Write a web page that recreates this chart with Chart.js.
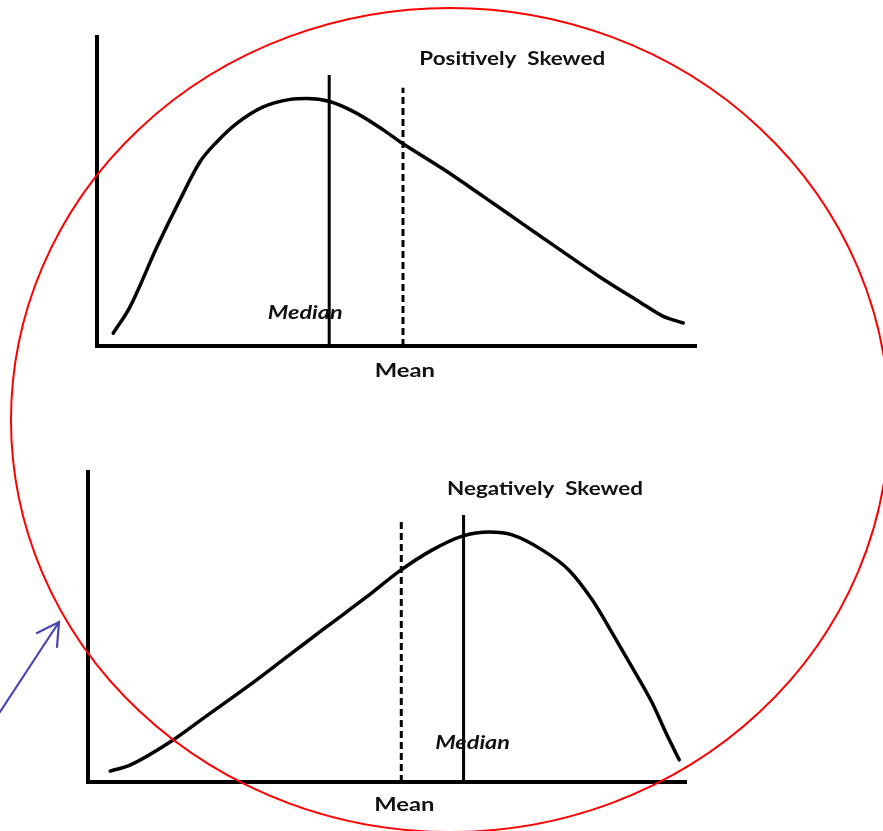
<!DOCTYPE html>
<html><head><meta charset="utf-8">
<script src="https://cdn.jsdelivr.net/npm/chart.js@4/dist/chart.umd.min.js"></script>
<style>
html,body{margin:0;padding:0;background:#fff;}
#wrap{position:relative;width:883px;height:831px;overflow:hidden;background:#fff;}
.c{position:absolute;left:0;}
</style></head><body>
<div id="wrap">
<div class="c" style="top:0;width:883px;height:415px"><canvas id="top"></canvas></div>
<div class="c" style="top:415px;width:883px;height:416px"><canvas id="bot"></canvas></div>
<div class="c" style="top:0;width:883px;height:831px;pointer-events:none"><canvas id="ov"></canvas></div>
</div>
<script>
// ---- Data (arbitrary units, 0..100 on both axes of each panel) ----
const posCurveX = [2.7,5.5,10.0,13.8,17.2,20.0,23.3,27.7,32.2,35.0,38.8,43.3,47.7,50.5,57.7,64.3,71.0,77.2,83.8,90.5,94.3,97.7];
const posCurveY = [4.1,12.6,31.9,46.9,59.3,65.7,71.6,76.9,79.3,79.6,78.6,74.8,69.5,65.7,56.9,48.2,39.2,30.9,22.2,14.1,9.6,7.4];
const posMedian = [38.7, 87.1];   // [x, line height]
const posMean   = [51.0, 83.0];

const negCurveX = [3.7,7.0,13.7,19.8,26.5,33.2,39.8,46.5,52.0,57.5,62.5,67.0,70.8,75.8,80.3,84.2,87.5,90.8,94.2,96.5,98.7];
const negCurveY = [3.5,5.4,12.8,21.2,30.4,40.1,49.7,59.3,67.6,74.4,78.8,80.1,79.2,74.4,67.9,58.3,47.8,36.9,25.3,15.7,7.1];
const negMedian = [62.7, 85.6];
const negMean   = [52.3, 84.3];

const posLabels = {title:"Positively  Skewed", median:"Median", mean:"Mean"};
const negLabels = {title:"Negatively  Skewed", median:"Median", mean:"Mean"};

// ---- Helpers ----
function pts(xs, ys){ return xs.map((x,i)=>({x:x, y:ys[i]})); }

function wideText(ctx, text, x, y, font, sx){
  ctx.save();
  ctx.font = font;
  ctx.translate(x, y);
  ctx.scale(sx, 1);
  ctx.fillText(text, 0, 0);
  ctx.restore();
}

const panelPlugin = {
  id:'panel',
  afterDatasetsDraw(chart){
    const o = chart.options.plugins.panel;
    const ctx = chart.ctx, xs = chart.scales.x, ys = chart.scales.y;
    ctx.save();
    ctx.strokeStyle = '#000';
    ctx.lineWidth = 4;
    ctx.lineCap = 'butt';
    const x0 = xs.getPixelForValue(0), x1 = xs.getPixelForValue(100);
    const y0 = ys.getPixelForValue(0), y1 = ys.getPixelForValue(100);
    ctx.beginPath();
    ctx.moveTo(x0, y1); ctx.lineTo(x0, y0 + 2);
    ctx.moveTo(x0 - 2, y0); ctx.lineTo(x1, y0);
    ctx.stroke();
    ctx.fillStyle = '#111';
    ctx.textAlign = 'center';
    ctx.textBaseline = 'middle';
    wideText(ctx, o.labels.title, xs.getPixelForValue(o.titlePos[0]), ys.getPixelForValue(o.titlePos[1]),
      'bold 19px Lato, "DejaVu Sans", sans-serif', 1.18);
    wideText(ctx, o.labels.mean, xs.getPixelForValue(o.meanPos[0]), ys.getPixelForValue(o.meanPos[1]),
      'bold 19px Lato, "DejaVu Sans", sans-serif', 1.25);
    wideText(ctx, o.labels.median, xs.getPixelForValue(o.medianPos[0]), ys.getPixelForValue(o.medianPos[1]),
      'italic bold 18px Lato, "DejaVu Sans", sans-serif', 1.3);
    ctx.restore();
  }
};

function makePanel(id, cx, cy, med, mean, labels, pad, pos){
  return new Chart(document.getElementById(id), {
    type:'scatter',
    data:{datasets:[
      {data:pts(cx, cy), showLine:true, borderColor:'#000', borderWidth:3.5, pointRadius:0, cubicInterpolationMode:'monotone', clip:false, fill:false, borderCapStyle:'round'},
      {data:[{x:med[0],y:0},{x:med[0],y:med[1]}], showLine:true, borderColor:'#000', borderWidth:3, pointRadius:0, clip:false},
      {data:[{x:mean[0],y:0},{x:mean[0],y:mean[1]}], showLine:true, borderColor:'#000', borderWidth:3, borderDash:[7,4], pointRadius:0, clip:false}
    ]},
    options:{
      responsive:true, maintainAspectRatio:false, animation:false,
      layout:{padding:pad},
      scales:{
        x:{type:'linear', min:0, max:100, display:false},
        y:{type:'linear', min:0, max:100, display:false}
      },
      plugins:{legend:{display:false}, tooltip:{enabled:false},
        panel:Object.assign({labels:labels}, pos)}
    },
    plugins:[panelPlugin]
  });
}

makePanel('top', posCurveX, posCurveY, posMedian, posMean, posLabels,
  {left:97, right:186, top:35, bottom:69},
  {titlePos:[69.2,92.3], medianPos:[34.7,10.6], meanPos:[51.3,-8.0]});

makePanel('bot', negCurveX, negCurveY, negMedian, negMean, negLabels,
  {left:88, right:196, top:55, bottom:49},
  {titlePos:[76.3,93.9], medianPos:[64.2,12.5], meanPos:[52.8,-7.4]});

// ---- Overlay annotations: red ellipse and blue arrow (page coordinates) ----
const ellipseSpec = {cx:450, cy:420, rx:439, ry:412};
const arrowSpec = {from:[0,712], to:[59,622], barbA:[37,633], barbB:[57,647]};

const overlayPlugin = {
  id:'overlay',
  afterDraw(chart){
    const ctx = chart.ctx, xs = chart.scales.x, ys = chart.scales.y;
    const X = v => xs.getPixelForValue(v), Y = v => ys.getPixelForValue(v);
    ctx.save();
    ctx.strokeStyle = '#ff0000';
    ctx.lineWidth = 2;
    ctx.beginPath();
    ctx.ellipse(X(ellipseSpec.cx), Y(ellipseSpec.cy),
      Math.abs(X(ellipseSpec.cx + ellipseSpec.rx) - X(ellipseSpec.cx)),
      Math.abs(Y(ellipseSpec.cy + ellipseSpec.ry) - Y(ellipseSpec.cy)), 0, 0, Math.PI*2);
    ctx.stroke();
    ctx.strokeStyle = '#4646b4';
    ctx.lineWidth = 2.2;
    ctx.lineCap = 'round';
    ctx.beginPath();
    ctx.moveTo(X(arrowSpec.from[0]), Y(arrowSpec.from[1]));
    ctx.lineTo(X(arrowSpec.to[0]), Y(arrowSpec.to[1]));
    ctx.moveTo(X(arrowSpec.barbA[0]), Y(arrowSpec.barbA[1]));
    ctx.lineTo(X(arrowSpec.to[0]), Y(arrowSpec.to[1]));
    ctx.lineTo(X(arrowSpec.barbB[0]), Y(arrowSpec.barbB[1]));
    ctx.stroke();
    ctx.restore();
  }
};

new Chart(document.getElementById('ov'), {
  type:'scatter',
  data:{datasets:[{data:[]}]},
  options:{
    responsive:true, maintainAspectRatio:false, animation:false,
    layout:{padding:0},
    scales:{
      x:{type:'linear', min:0, max:883, display:false},
      y:{type:'linear', min:0, max:831, reverse:true, display:false}
    },
    plugins:{legend:{display:false}, tooltip:{enabled:false}}
  },
  plugins:[overlayPlugin]
});
</script>
</body></html>
